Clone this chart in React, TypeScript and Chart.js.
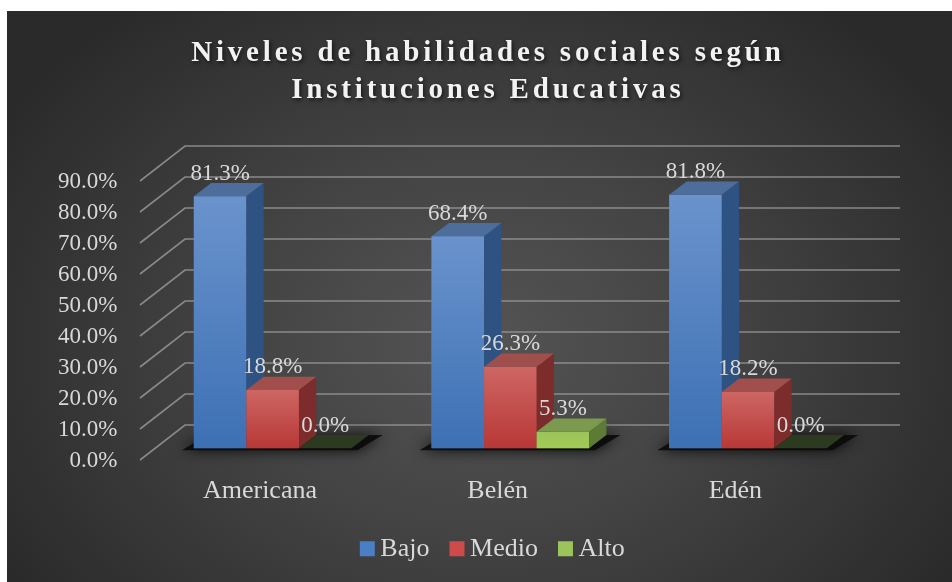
import React, { useEffect, useRef } from "react";
import { Chart, registerables } from "chart.js";

Chart.register(...registerables);

// ---------- data ----------
const TITLE_LINES = ["Niveles de habilidades sociales según", "Instituciones Educativas"];
const CATEGORIES = ["Americana", "Belén", "Edén"];
const SERIES_NAMES = ["Bajo", "Medio", "Alto"];
const BAJO = [81.3, 68.4, 81.8];
const MEDIO = [18.8, 26.3, 18.2];
const ALTO = [0.0, 5.3, 0.0];
const Y_MIN = 0;
const Y_MAX = 90;
const Y_STEP = 10;

// ---------- styles ----------
const SERIF = "'Times New Roman', 'Liberation Serif', serif";
const TEXT = "#d9d9d9";
const FACES = [
  { legend: "#4a7fc6", frontTop: "#6a93cc", frontBottom: "#3d70b4", top: "#4d6d9b", side: "#2e5282", flat: "#22395c" },
  { legend: "#cf4b49", frontTop: "#cd6664", frontBottom: "#b83836", top: "#a04f4d", side: "#7c2d2b", flat: "#4c1c1c" },
  { legend: "#9bc55a", frontTop: "#9ac459", frontBottom: "#a2cb55", top: "#7b9a50", side: "#5d7b34", flat: "#2c3a1f" },
];
const DEPTH_X = 17.3;
const DEPTH_Y = 13.3;
const GRID_FRONT_DX = -13.8;
const GRID_FRONT_DY = 11.7;
const GRID_BACK_DX = 31.2;
const GRID_BACK_DY = -23.3;
const GRID_RIGHT_EXTRA = 33.1;

const threeDPlugin = {
  id: "threeD",
  beforeDatasetsDraw(chart: any) {
    const { ctx, chartArea } = chart;
    const ys = chart.scales.y;
    ctx.save();
    ctx.strokeStyle = "rgba(150,150,150,0.85)";
    ctx.lineWidth = 1.6;
    ys.ticks.forEach((t: any) => {
      const py = ys.getPixelForValue(t.value);
      ctx.beginPath();
      ctx.moveTo(chartArea.left + GRID_FRONT_DX, py + GRID_FRONT_DY);
      ctx.lineTo(chartArea.left + GRID_BACK_DX, py + GRID_BACK_DY);
      ctx.lineTo(chartArea.right + GRID_RIGHT_EXTRA, py + GRID_BACK_DY);
      ctx.stroke();
    });
    // floor shadows per category
    const nDs = chart.data.datasets.length;
    for (let j = 0; j < CATEGORIES.length; j++) {
      let x0 = Infinity;
      let x1 = -Infinity;
      let base = 0;
      for (let i = 0; i < nDs; i++) {
        const el = chart.getDatasetMeta(i).data[j];
        const p = el.getProps(["x", "width", "base"], true);
        x0 = Math.min(x0, p.x - p.width / 2);
        x1 = Math.max(x1, p.x + p.width / 2);
        base = p.base;
      }
      ctx.save();
      ctx.shadowColor = "rgba(0,0,0,0.95)";
      ctx.shadowBlur = 14;
      ctx.fillStyle = "rgba(10,10,10,0.9)";
      ctx.beginPath();
      ctx.moveTo(x0 - 12, base + 2);
      ctx.lineTo(x1 + 6, base + 2);
      ctx.lineTo(x1 + DEPTH_X + 14, base - DEPTH_Y);
      ctx.lineTo(x0 + DEPTH_X - 4, base - DEPTH_Y);
      ctx.closePath();
      ctx.fill();
      ctx.restore();
    }
    ctx.restore();
  },
  afterDatasetsDraw(chart: any) {
    const { ctx } = chart;
    const nDs = chart.data.datasets.length;
    ctx.save();
    for (let i = 0; i < nDs; i++) {
      const face = FACES[i];
      chart.getDatasetMeta(i).data.forEach((el: any) => {
        const { x, y, width, base } = el.getProps(["x", "y", "width", "base"], true);
        const l = x - width / 2;
        const r = x + width / 2;
        const top = Math.min(y, base);
        const h = base - top;
        if (h > 0.5) {
          const g = ctx.createLinearGradient(0, top, 0, base);
          g.addColorStop(0, face.frontTop);
          g.addColorStop(1, face.frontBottom);
          ctx.fillStyle = g;
          ctx.fillRect(l, top, width, h);
          ctx.fillStyle = face.side;
          ctx.beginPath();
          ctx.moveTo(r, top);
          ctx.lineTo(r + DEPTH_X, top - DEPTH_Y);
          ctx.lineTo(r + DEPTH_X, base - DEPTH_Y);
          ctx.lineTo(r, base);
          ctx.closePath();
          ctx.fill();
          ctx.fillStyle = face.top;
        } else {
          ctx.fillStyle = face.flat;
        }
        ctx.beginPath();
        ctx.moveTo(l, top);
        ctx.lineTo(r, top);
        ctx.lineTo(r + DEPTH_X, top - DEPTH_Y);
        ctx.lineTo(l + DEPTH_X, top - DEPTH_Y);
        ctx.closePath();
        ctx.fill();
      });
    }
    // value labels
    ctx.font = `23px ${SERIF}`;
    ctx.fillStyle = TEXT;
    ctx.textAlign = "center";
    ctx.textBaseline = "alphabetic";
    for (let i = 0; i < nDs; i++) {
      const values = chart.data.datasets[i].data as number[];
      chart.getDatasetMeta(i).data.forEach((el: any, j: number) => {
        const { x, y, base } = el.getProps(["x", "y", "base"], true);
        const top = Math.min(y, base);
        ctx.fillText(values[j].toFixed(1) + "%", x, top - 16.7);
      });
    }
    ctx.restore();
  },
  afterDraw(chart: any) {
    const { ctx, width } = chart;
    ctx.save();
    ctx.font = `bold 29px ${SERIF}`;
    (ctx as any).letterSpacing = "3.8px";
    ctx.fillStyle = "#f2f2f2";
    ctx.textAlign = "center";
    ctx.textBaseline = "alphabetic";
    ctx.shadowColor = "rgba(0,0,0,0.65)";
    ctx.shadowBlur = 4;
    ctx.shadowOffsetX = 1.5;
    ctx.shadowOffsetY = 2;
    const cx = width / 2 + 6.5 + 1.9;
    TITLE_LINES.forEach((line, k) => ctx.fillText(line, cx, 50 + k * 37.3));
    ctx.restore();
  },
};

export default function App() {
  const canvasRef = useRef<HTMLCanvasElement | null>(null);

  useEffect(() => {
    if (!canvasRef.current) return;
    const seriesValues = [BAJO, MEDIO, ALTO];
    const chart = new Chart(canvasRef.current, {
      type: "bar",
      data: {
        labels: CATEGORIES,
        datasets: SERIES_NAMES.map((name, i) => ({
          label: name,
          data: seriesValues[i],
          backgroundColor: FACES[i].legend,
          borderWidth: 0,
          categoryPercentage: 0.663,
          barPercentage: 1,
        })),
      },
      options: {
        animation: false,
        responsive: true,
        maintainAspectRatio: false,
        layout: { padding: { top: 158.3, left: 33, right: 0, bottom: 10.3 } },
        plugins: {
          title: { display: false },
          tooltip: { enabled: false },
          legend: {
            display: true,
            position: "bottom",
            labels: {
              color: TEXT,
              font: { family: SERIF, size: 26 },
              usePointStyle: true,
              pointStyle: "rect",
              boxWidth: 0.1,
              boxHeight: 15,
              padding: 27.5,
            },
          },
        },
        scales: {
          x: {
            grid: { display: false, drawTicks: false },
            border: { display: false },
            ticks: {
              color: TEXT,
              font: { family: SERIF, size: 26 },
              padding: 27.3,
              labelOffset: -12.7,
              maxRotation: 0,
            },
            afterFit: (s: any) => {
              s.height = 59.9;
            },
          },
          y: {
            min: Y_MIN,
            max: Y_MAX,
            grid: { display: false, drawTicks: false },
            border: { display: false },
            ticks: {
              stepSize: Y_STEP,
              color: TEXT,
              font: { family: SERIF, size: 23 },
              padding: 36.5,
              labelOffset: 12.8,
              callback: (v: any) => Number(v).toFixed(1) + "%",
            },
            afterFit: (s: any) => {
              s.width = 113.8;
            },
          },
          yRight: {
            type: "linear",
            position: "right",
            display: true,
            grid: { display: false, drawTicks: false },
            border: { display: false },
            ticks: { display: false },
            afterFit: (s: any) => {
              s.width = 85.1;
            },
          },
        },
      } as any,
      plugins: [threeDPlugin],
    });
    return () => chart.destroy();
  }, []);

  return (
    <div
      style={{
        position: "fixed",
        left: 7,
        top: 11,
        width: 945,
        height: 571,
        background:
          "radial-gradient(ellipse 560px 430px at 50% 58%, #545454 0%, #434343 45%, #2a2a2a 100%)",
      }}
    >
      <canvas ref={canvasRef} />
    </div>
  );
}
